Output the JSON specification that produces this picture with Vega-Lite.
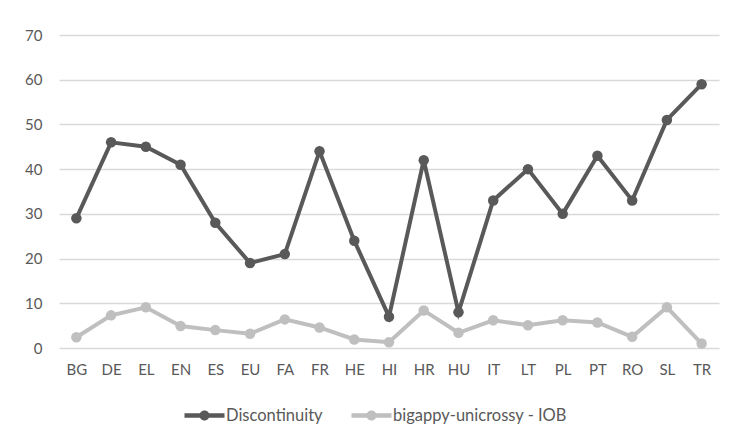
{
  "$schema": "https://vega.github.io/schema/vega-lite/v6.json",
  "width": 660,
  "height": 313,
  "autosize": {"type": "none"},
  "padding": {"left": 59, "top": 35, "right": 16, "bottom": 99},
  "background": "white",
  "config": {
    "view": {"stroke": null},
    "font": "Lato",
    "axis": {"labelFont": "Lato", "labelColor": "#595959", "labelFontSize": 15, "titleFont": "Lato"},
    "legend": {"labelFont": "Lato", "labelColor": "#595959", "labelFontSize": 16.5, "labelLimit": 400}
  },
  "data": {
    "values": [
      {"lang": "BG", "series": "Discontinuity", "value": 29},
      {"lang": "DE", "series": "Discontinuity", "value": 46},
      {"lang": "EL", "series": "Discontinuity", "value": 45},
      {"lang": "EN", "series": "Discontinuity", "value": 41},
      {"lang": "ES", "series": "Discontinuity", "value": 28},
      {"lang": "EU", "series": "Discontinuity", "value": 19},
      {"lang": "FA", "series": "Discontinuity", "value": 21},
      {"lang": "FR", "series": "Discontinuity", "value": 44},
      {"lang": "HE", "series": "Discontinuity", "value": 24},
      {"lang": "HI", "series": "Discontinuity", "value": 7},
      {"lang": "HR", "series": "Discontinuity", "value": 42},
      {"lang": "HU", "series": "Discontinuity", "value": 8},
      {"lang": "IT", "series": "Discontinuity", "value": 33},
      {"lang": "LT", "series": "Discontinuity", "value": 40},
      {"lang": "PL", "series": "Discontinuity", "value": 30},
      {"lang": "PT", "series": "Discontinuity", "value": 43},
      {"lang": "RO", "series": "Discontinuity", "value": 33},
      {"lang": "SL", "series": "Discontinuity", "value": 51},
      {"lang": "TR", "series": "Discontinuity", "value": 59},
      {"lang": "BG", "series": "bigappy-unicrossy - IOB", "value": 2.4},
      {"lang": "DE", "series": "bigappy-unicrossy - IOB", "value": 7.3},
      {"lang": "EL", "series": "bigappy-unicrossy - IOB", "value": 9.1},
      {"lang": "EN", "series": "bigappy-unicrossy - IOB", "value": 4.9},
      {"lang": "ES", "series": "bigappy-unicrossy - IOB", "value": 4.0},
      {"lang": "EU", "series": "bigappy-unicrossy - IOB", "value": 3.2},
      {"lang": "FA", "series": "bigappy-unicrossy - IOB", "value": 6.4},
      {"lang": "FR", "series": "bigappy-unicrossy - IOB", "value": 4.6},
      {"lang": "HE", "series": "bigappy-unicrossy - IOB", "value": 1.9},
      {"lang": "HI", "series": "bigappy-unicrossy - IOB", "value": 1.3},
      {"lang": "HR", "series": "bigappy-unicrossy - IOB", "value": 8.4},
      {"lang": "HU", "series": "bigappy-unicrossy - IOB", "value": 3.4},
      {"lang": "IT", "series": "bigappy-unicrossy - IOB", "value": 6.2},
      {"lang": "LT", "series": "bigappy-unicrossy - IOB", "value": 5.1},
      {"lang": "PL", "series": "bigappy-unicrossy - IOB", "value": 6.2},
      {"lang": "PT", "series": "bigappy-unicrossy - IOB", "value": 5.7},
      {"lang": "RO", "series": "bigappy-unicrossy - IOB", "value": 2.5},
      {"lang": "SL", "series": "bigappy-unicrossy - IOB", "value": 9.1},
      {"lang": "TR", "series": "bigappy-unicrossy - IOB", "value": 1.0}
    ]
  },
  "mark": {"type": "line", "strokeWidth": 4, "point": {"filled": true, "size": 110}},
  "encoding": {
    "x": {
      "field": "lang", "type": "nominal", "sort": null,
      "scale": {"paddingInner": 0, "paddingOuter": 0.5},
      "axis": {"title": null, "labelAngle": 0, "ticks": false, "domain": false, "labelPadding": 14}
    },
    "y": {
      "field": "value", "type": "quantitative",
      "scale": {"domain": [0, 70], "nice": false},
      "axis": {"title": null, "values": [0, 10, 20, 30, 40, 50, 60, 70], "ticks": false, "domain": false, "gridColor": "#d9d9d9", "gridWidth": 1.5, "labelPadding": 17}
    },
    "color": {
      "field": "series", "type": "nominal", "sort": ["Discontinuity", "bigappy-unicrossy - IOB"],
      "scale": {"domain": ["Discontinuity", "bigappy-unicrossy - IOB"], "range": ["#595959", "#bfbfbf"]},
      "legend": {"title": null, "orient": "none", "legendX": 126, "legendY": 368, "direction": "horizontal", "columnPadding": 28, "labelOffset": 9, "symbolType": "M-1.6,-0.18 L1.6,-0.18 L1.6,0.18 L-1.6,0.18 Z M-0.4,0 A0.4,0.4 0 1,1 0.4,0 A0.4,0.4 0 1,1 -0.4,0 Z", "symbolSize": 625, "symbolStrokeWidth": 0, "symbolOffset": 7}
    }
  }
}
